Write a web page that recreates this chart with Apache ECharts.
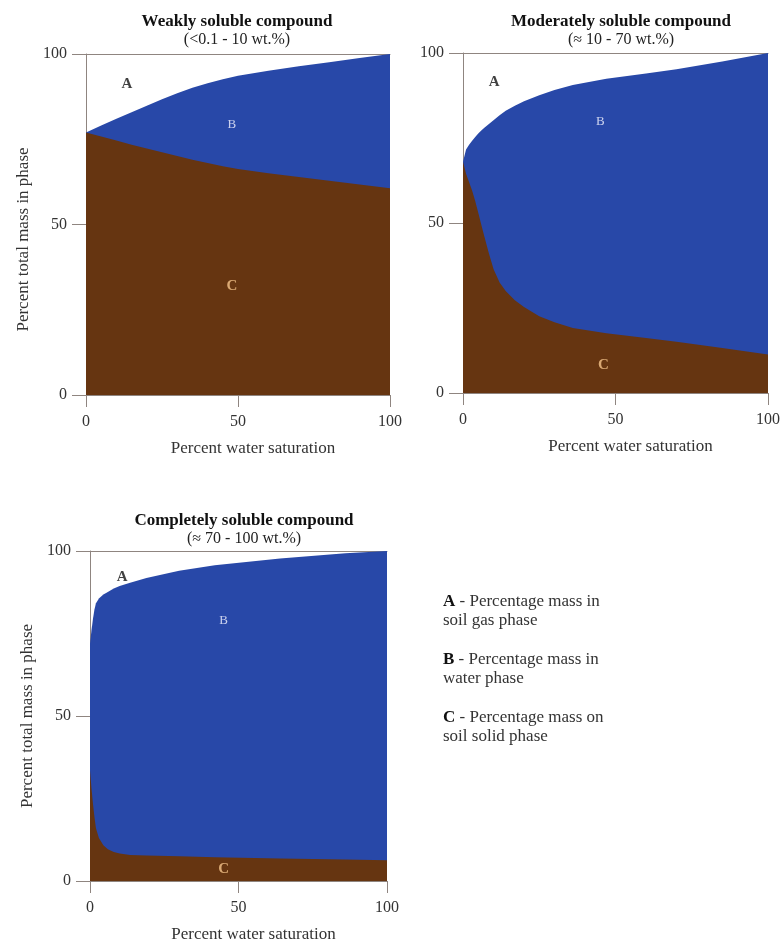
<!DOCTYPE html>
<html>
<head>
<meta charset="utf-8">
<script src="https://cdn.jsdelivr.net/npm/echarts@6/dist/echarts.min.js"></script>
<style>html,body{margin:0;padding:0;background:#fff}#c{width:784px;height:951px}</style>
</head>
<body>
<div id="c"></div>
<script>
// ---- data ----
const titles = ['Weakly soluble compound', 'Moderately soluble compound', 'Completely soluble compound'];
const subtitles = ['(<0.1 - 10 wt.%)', '(\u2248 10 - 70 wt.%)', '(\u2248 70 - 100 wt.%)'];
const xTicks = [0, 50, 100];
const yTicks = [0, 50, 100];
const xName = 'Percent water saturation';
const yName = 'Percent total mass in phase';

// Panel 1: weakly soluble
const sat1 = [0, 5, 10, 15, 20, 25, 30, 35, 40, 45, 50, 60, 70, 80, 90, 100];
const gasWater1 = [77, 79, 81, 82.9, 84.8, 86.7, 88.5, 90.1, 91.4, 92.6, 93.6, 95.1, 96.4, 97.6, 98.8, 100];   // top of B (A/B boundary)
const solid1 = [77, 75.8, 74.6, 73.4, 72.3, 71.2, 70.1, 69, 68, 67.1, 66.3, 65, 63.9, 62.8, 61.7, 60.6];   // top of C

// Panel 2: moderately soluble
const sat2 = [0, 1, 2, 3, 4, 5, 6, 7, 8.5, 10, 12, 14, 17, 20, 25, 30, 36, 47, 60, 70, 85, 100];
const gasWater2 = [68, 71.6, 73, 74.2, 75.3, 76.3, 77.2, 78, 79.1, 80.2, 81.7, 83, 84.5, 85.8, 87.6, 89.1, 90.6, 92.4, 94, 95.2, 97.5, 100];
const solid2 = [68, 64.5, 62, 59.5, 56.5, 53, 49.5, 46, 41, 36.5, 32.5, 30, 27.3, 25.3, 22.6, 20.8, 19.1, 17.6, 16.2, 15.1, 13.2, 11.3];

// Panel 3: completely soluble
const sat3 = [0, 0.5, 1, 1.5, 2, 3, 4.5, 6, 8, 10, 13.5, 19, 30, 42, 64, 86, 100];
const gasWater3 = [72, 76, 79.5, 82.3, 84.2, 85.6, 86.8, 87.6, 88.6, 89.4, 90.4, 91.8, 94, 95.7, 97.7, 99.3, 100];
const solid3 = [33.5, 28, 23.4, 19.3, 16, 13, 10.8, 9.6, 8.8, 8.3, 7.9, 7.7, 7.5, 7.2, 6.8, 6.5, 6.3];

// region label anchor points [sat, percent]
const labelNames = ['A', 'B', 'C'];
const labelPos1 = [[13.5, 91.2], [48, 79.2], [48, 32]];
const labelPos2 = [[10.2, 91.5], [45, 79.7], [46, 8.2]];
const labelPos3 = [[10.8, 92.1], [45, 79], [45, 3.6]];

const legendLines = [
  ['A', 'Percentage mass in', 'soil gas phase'],
  ['B', 'Percentage mass in', 'water phase'],
  ['C', 'Percentage mass on', 'soil solid phase']
];

// ---- chart ----
const FONT = 'Liberation Serif';
const BLUE = '#2848a8';
const BROWN = '#663511';
const AXIS = '#8f8580';
const TXT = '#333';

const panels = [
  {sat: sat1, top: gasWater1, c: solid1, lab: labelPos1, grid: {left: 86, top: 54, width: 304, height: 341}, yname: true, tcx: 232, tty: 8},
  {sat: sat2, top: gasWater2, c: solid2, lab: labelPos2, grid: {left: 463, top: 53, width: 305, height: 340}, yname: false, tcx: 616, tty: 8},
  {sat: sat3, top: gasWater3, c: solid3, lab: labelPos3, grid: {left: 90, top: 551, width: 297, height: 330}, yname: true, tcx: 239, tty: 507}
];

const grid = [], xAxis = [], yAxis = [], series = [], title = [];
panels.forEach((p, i) => {
  grid.push(p.grid);
  title.push({
    text: titles[i], subtext: subtitles[i], left: p.tcx, top: p.tty, textAlign: 'center', itemGap: 2,
    textStyle: {fontFamily: FONT, fontWeight: 'bold', fontSize: 17, color: '#111'},
    subtextStyle: {fontFamily: FONT, fontSize: 16, color: '#222'}
  });
  xAxis.push({
    type: 'value', gridIndex: i, min: 0, max: 100, interval: 50,
    name: xName, nameLocation: 'middle', nameGap: 45,
    nameTextStyle: {fontFamily: FONT, fontSize: 17, color: TXT, padding: [0, 0, 0, 30]},
    axisLine: {show: true, lineStyle: {color: AXIS, width: 1}},
    axisTick: {show: true, length: 12, lineStyle: {color: AXIS}},
    axisLabel: {fontFamily: FONT, fontSize: 16, color: TXT, margin: 19,
      formatter: v => xTicks.includes(v) ? String(v) : ''},
    splitLine: {show: false}
  });
  yAxis.push({
    type: 'value', gridIndex: i, min: 0, max: 100, interval: 50,
    name: p.yname ? yName : '', nameLocation: 'middle', nameGap: 54,
    nameTextStyle: {fontFamily: FONT, fontSize: 17, color: TXT, padding: i === 0 ? [0, 30, 0, 0] : 0},
    axisLine: {show: true, lineStyle: {color: AXIS, width: 1}},
    axisTick: {show: true, length: 14, lineStyle: {color: AXIS}},
    axisLabel: {fontFamily: FONT, fontSize: 16, color: TXT, margin: 19,
      formatter: v => yTicks.includes(v) ? String(v) : ''},
    splitLine: {show: false}
  });
});
// top border lines
panels.forEach((p, i) => {
  xAxis.push({
    type: 'value', gridIndex: i, position: 'top', min: 0, max: 100,
    axisLine: {show: true, onZero: false, lineStyle: {color: AXIS, width: 1}},
    axisTick: {show: false}, axisLabel: {show: false}, splitLine: {show: false}
  });
});

panels.forEach((p, i) => {
  series.push({
    type: 'line', xAxisIndex: i, yAxisIndex: i, silent: true,
    data: p.sat.map((s, k) => [s, p.top[k]]),
    smooth: false, showSymbol: false,
    lineStyle: {width: 0}, areaStyle: {color: BLUE, opacity: 1}, z: 2
  });
  series.push({
    type: 'line', xAxisIndex: i, yAxisIndex: i, silent: true,
    data: p.sat.map((s, k) => [s, p.c[k]]),
    smooth: false, showSymbol: false,
    lineStyle: {width: 0}, areaStyle: {color: BROWN, opacity: 1}, z: 3
  });
  const lblColors = ['#111', '#f4f4ff', '#f6c68c'];
  const lblSizes = [15, 13, 15];
  const lblWeights = ['bold', 'normal', 'bold'];
  series.push({
    type: 'scatter', xAxisIndex: i, yAxisIndex: i, silent: true, symbolSize: 0, z: 5,
    data: p.lab.map((pt, k) => ({
      name: labelNames[k], value: pt,
      label: {color: lblColors[k], fontSize: lblSizes[k], fontWeight: lblWeights[k]}
    })),
    label: {show: true, position: 'inside', fontFamily: FONT, formatter: d => d.name},
    labelLayout: {hideOverlap: false}
  });
});

const legendChildren = [];
legendLines.forEach((l, k) => {
  legendChildren.push({
    type: 'text', left: 0, top: k * 58,
    style: {
      text: '{b|' + l[0] + '} - ' + l[1] + '\n' + l[2],
      fontFamily: FONT, fontSize: 17, fill: '#333', lineHeight: 19,
      rich: {b: {fontFamily: FONT, fontWeight: 'bold', fontSize: 17, fill: '#111', lineHeight: 19}}
    }
  });
});

const chart = echarts.init(document.getElementById('c'), null, {renderer: 'canvas'});
chart.setOption({
  backgroundColor: '#fff',
  animation: false,
  title, grid, xAxis, yAxis, series,
  graphic: [{type: 'group', left: 443, top: 592, children: legendChildren}]
});
</script>
</body>
</html>
